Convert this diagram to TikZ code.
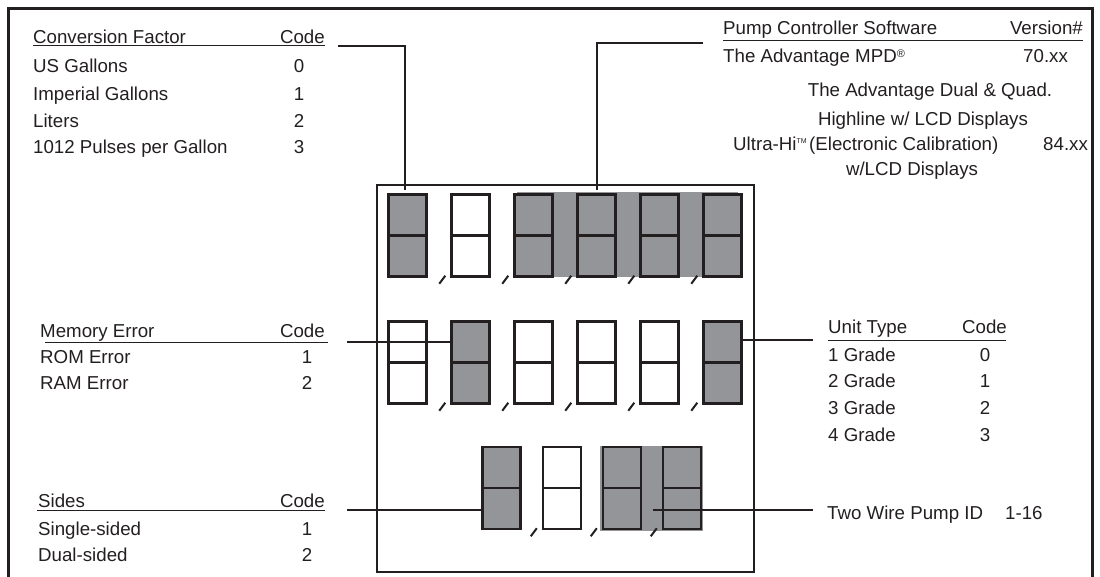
\documentclass[tikz,border=0pt]{standalone}
\usepackage{fontspec}
\setmainfont{Liberation Sans}
\usetikzlibrary{calc}
\definecolor{ink}{HTML}{231F20}
\definecolor{segfill}{RGB}{147,149,152}
\newcommand\segdigit[4]{\node[digit,#4] (#1) at (#2,#3) {}; \draw[segline] (#1.west) -- (#1.east);}
\newcommand\segslash[1]{\draw[slash] ($(#1.south west)+(-11,6)$) -- ($(#1.south west)+(-5,-2)$);}
\newcommand\regmark{\raisebox{0.55ex}{\fontsize{11}{11}\selectfont ®}}
\newcommand\tmmark{\raisebox{0.75ex}{\fontsize{7}{7}\selectfont TM}}
\begin{document}
\begin{tikzpicture}[x=1pt,y=-1pt,font=\fontsize{18.7}{22}\selectfont,
  txt/.style={anchor=base west,inner sep=0,text=ink},
  txtr/.style={anchor=base east,inner sep=0,text=ink},
  txtc/.style={anchor=base,inner sep=0,text=ink},
  digit/.style={draw=ink,line width=2.5pt,minimum width=38pt,minimum height=82pt,inner sep=0,fill=white},
  lit/.style={fill=segfill},
  segline/.style={draw=ink,line width=2.5pt},
  slash/.style={draw=ink,line width=2pt},
  uline/.style={draw=ink,line width=1pt},
  conn/.style={draw=ink,line width=1.6pt}]
\useasboundingbox (0,0) rectangle (1100,577);
% outer frame
\draw[ink,line width=3pt] (8.5,590) -- (8.5,8.5) -- (1092.5,8.5) -- (1092.5,590);
% display panel
\node[draw=ink,line width=2pt,minimum width=377pt,minimum height=387pt,inner sep=0] (panel) at (565.5,378.5) {};
% gray backgrounds
\fill[segfill] (517,192) rectangle (738,277);
\fill[segfill] (600,446) rectangle (703,531);
% row 1
\segdigit{d11}{407.5}{235.5}{lit}
\segdigit{d12}{470.5}{235.5}{}
\segdigit{d13}{533.5}{235.5}{lit}
\segdigit{d14}{596.5}{235.5}{lit}
\segdigit{d15}{659.5}{235.5}{lit}
\segdigit{d16}{722.5}{235.5}{lit}
\foreach \d in {d12,d13,d14,d15,d16} {\segslash{\d}}
% row 2
\segdigit{d21}{407.5}{362.5}{}
\segdigit{d22}{470.5}{362.5}{lit}
\segdigit{d23}{533.5}{362.5}{}
\segdigit{d24}{596.5}{362.5}{}
\segdigit{d25}{659.5}{362.5}{}
\segdigit{d26}{722.5}{362.5}{lit}
\foreach \d in {d22,d23,d24,d25,d26} {\segslash{\d}}
% row 3
\segdigit{d31}{501.5}{488}{lit}
\segdigit{d32}{562}{488}{}
\segdigit{d33}{622}{488}{lit}
\segdigit{d34}{682}{488}{lit}
\foreach \d in {d32,d33,d34} {\segslash{\d}}

% Conversion factor table
\node[txt] (cfh) at (33,44) {Conversion Factor};
\node[txtr] (cfc) at (325,44) {Code};
\draw[uline] (33,45.5) -- (325,45.5);
\node[txt] (cf1) at (33,73) {US Gallons};
\node[txtc] (cf1c) at (299,73) {0};
\node[txt] (cf2) at (33,101) {Imperial Gallons};
\node[txtc] (cf2c) at (299,101) {1};
\node[txt] (cf3) at (33,128) {Liters};
\node[txtc] (cf3c) at (299,128) {2};
\node[txt] (cf4) at (33,154) {1012 Pulses per Gallon};
\node[txtc] (cf4c) at (299,154) {3};

% Pump controller software table
\node[txt] (pch) at (723,35) {Pump Controller Software};
\node[txtr] (pcv) at (1083,35) {Version\#};
\draw[uline] (723,41) -- (1083,41);
\node[txt] (pc1) at (723,63) {The Advantage MPD\regmark};
\node[txt] (pc1v) at (1023,63) {70.xx};
\node[txtc] (pc2) at (930,97) {The Advantage Dual \& Quad.};
\node[txtc] (pc3) at (923,126) {Highline w/ LCD Displays};
\node[txt] (pc4a) at (733,151) {Ultra-Hi\tmmark};
\node[txt] (pc4b) at (809,151) {(Electronic Calibration)};
\node[txt] (pc4v) at (1043,151) {84.xx};
\node[txtc] (pc5) at (912,176) {w/LCD Displays};

% Memory error table
\node[txt] (meh) at (40,337) {Memory Error};
\node[txtr] (mec) at (325,337) {Code};
\draw[uline] (45,342) -- (328,342);
\node[txt] (me1) at (40,363) {ROM Error};
\node[txtc] (me1c) at (307,363) {1};
\node[txt] (me2) at (40,389) {RAM Error};
\node[txtc] (me2c) at (307,389) {2};

% Sides table
\node[txt] (sdh) at (38,507) {Sides};
\node[txtr] (sdc) at (325,507) {Code};
\draw[uline] (37,510) -- (325,510);
\node[txt] (sd1) at (38,535) {Single-sided};
\node[txtc] (sd1c) at (307,535) {1};
\node[txt] (sd2) at (38,561) {Dual-sided};
\node[txtc] (sd2c) at (307,561) {2};

% Unit type table
\node[txt] (uth) at (828,333) {Unit Type};
\node[txtr] (utc) at (1007,333) {Code};
\draw[uline] (828,340) -- (1006,340);
\node[txt] (ut1) at (828,361) {1 Grade};
\node[txtc] (ut1c) at (985,361) {0};
\node[txt] (ut2) at (828,387) {2 Grade};
\node[txtc] (ut2c) at (985,387) {1};
\node[txt] (ut3) at (828,414) {3 Grade};
\node[txtc] (ut3c) at (985,414) {2};
\node[txt] (ut4) at (828,441) {4 Grade};
\node[txtc] (ut4c) at (985,441) {3};

% Two wire pump ID
\node[txt] (tw) at (827,519) {Two Wire Pump ID};
\node[txt] (twv) at (1005,519) {1-16};

% connectors
\coordinate (cfA) at (338,46);
\coordinate (cfB) at (405,190);
\draw[conn] (cfA) -| (cfB);
\coordinate (pcA) at (703,43);
\coordinate (pcB) at (597,190);
\draw[conn] (pcA) -| (pcB);
\coordinate (meA) at (347,342);
\draw[conn] (meA) -- (meA -| d22.west);
\coordinate (utA) at (813,340);
\draw[conn] (utA) -- (utA -| d26.east);
\coordinate (sdA) at (347,510);
\draw[conn] (sdA) -- (sdA -| d31.west);
\coordinate (twA) at (813,510);
\coordinate (twB) at (653,510);
\draw[conn] (twA) -- (twB);
\end{tikzpicture}
\end{document}
